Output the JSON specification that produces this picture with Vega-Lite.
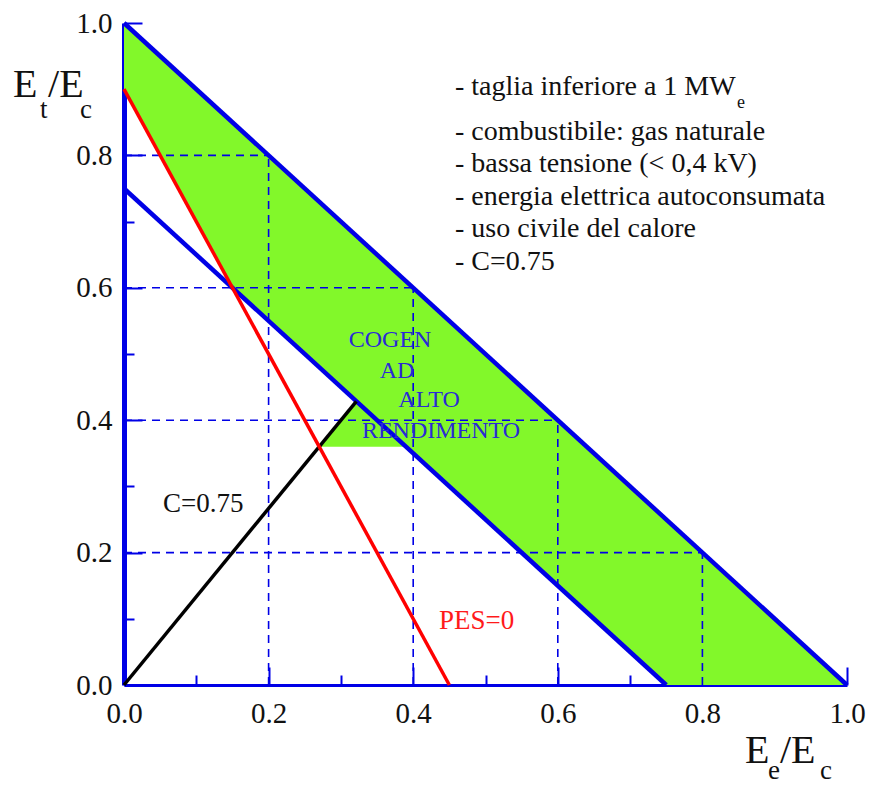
{
  "$schema": "https://vega.github.io/schema/vega-lite/v6.json",
  "width": 723,
  "height": 662,
  "autosize": {"type": "none"},
  "padding": {"left": 124, "top": 23, "right": 25, "bottom": 100},
  "background": "white",
  "config": {"view": {"stroke": null}, "font": "Liberation Serif"},
  "datasets": {
    "band": [
      {"x": 0, "y": 1, "y2": 0.9},
      {"x": 0.15, "y": 0.85, "y2": 0.6},
      {"x": 0.75, "y": 0.25, "y2": 0},
      {"x": 1, "y": 0, "y2": 0}
    ],
    "tri": [
      {"x": 0.27, "y": 0.36, "y2": 0.36},
      {"x": 0.3214, "y": 0.4286, "y2": 0.36},
      {"x": 0.39, "y": 0.36, "y2": 0.36}
    ],
    "grid": [
      {"x": 0, "x2": 0.8, "y": 0.2, "y2": 0.2},
      {"x": 0, "x2": 0.6, "y": 0.4, "y2": 0.4},
      {"x": 0, "x2": 0.4, "y": 0.6, "y2": 0.6},
      {"x": 0, "x2": 0.2, "y": 0.8, "y2": 0.8},
      {"x": 0.2, "x2": 0.2, "y": 0, "y2": 0.8},
      {"x": 0.4, "x2": 0.4, "y": 0, "y2": 0.6},
      {"x": 0.6, "x2": 0.6, "y": 0, "y2": 0.4},
      {"x": 0.8, "x2": 0.8, "y": 0, "y2": 0.2}
    ],
    "lines": [
      {"line": "top", "x": 0, "y": 1},
      {"line": "top", "x": 1, "y": 0},
      {"line": "low", "x": 0, "y": 0.75},
      {"line": "low", "x": 0.75, "y": 0},
      {"line": "C", "x": 0, "y": 0},
      {"line": "C", "x": 0.3214, "y": 0.4286},
      {"line": "PES", "x": 0, "y": 0.9},
      {"line": "PES", "x": 0.45, "y": 0}
    ],
    "notes": [
      {"t": "- taglia inferiore a 1 MW", "x": 0.4578, "y": 0.891},
      {"t": "- combustibile: gas naturale", "x": 0.4578, "y": 0.823},
      {"t": "- bassa tensione (< 0,4 kV)", "x": 0.4578, "y": 0.775},
      {"t": "- energia elettrica autoconsumata", "x": 0.4578, "y": 0.725},
      {"t": "- uso civile del calore", "x": 0.4578, "y": 0.677},
      {"t": "- C=0.75", "x": 0.4578, "y": 0.627}
    ],
    "notesub": [{"t": "e", "x": 0.848, "y": 0.8716}],
    "cogen": [
      {"t": "COGEN", "x": 0.368, "y": 0.5106},
      {"t": "AD", "x": 0.3776, "y": 0.4637},
      {"t": "ALTO", "x": 0.4219, "y": 0.42},
      {"t": "RENDIMENTO", "x": 0.4385, "y": 0.373}
    ],
    "pes": [{"t": "PES=0", "x": 0.4357, "y": 0.0846}],
    "clab": [{"t": "C=0.75", "x": 0.054, "y": 0.261}],
    "titlebig": [
      {"t": "E", "x": -0.1535, "y": 0.888},
      {"t": "/E", "x": -0.1051, "y": 0.888},
      {"t": "E", "x": 0.859, "y": -0.1178},
      {"t": "/E", "x": 0.9073, "y": -0.1178}
    ],
    "titlesub": [
      {"t": "t", "x": -0.1162, "y": 0.8565},
      {"t": "c", "x": -0.0609, "y": 0.8565},
      {"t": "e", "x": 0.8907, "y": -0.142},
      {"t": "c", "x": 0.9627, "y": -0.142}
    ]
  },
  "encoding": {
    "x": {
      "field": "x", "type": "quantitative",
      "scale": {"domain": [0, 1], "nice": false, "zero": false},
      "axis": {
        "title": null,
        "grid": false,
        "values": [0, 0.1, 0.2, 0.3, 0.4, 0.5, 0.6, 0.7, 0.8, 0.9, 1.0],
        "labelExpr": "round(datum.value*10) % 2 === 0 ? format(datum.value, '.1f') : ''",
        "domainColor": "#0000e6",
        "domainWidth": 3,
        "tickColor": "#0000e6",
        "tickWidth": 2,
        "tickSize": {"condition": {"test": "round(datum.value*10) % 2 === 0", "value": -18}, "value": -10},
        "labelFont": "Liberation Serif",
        "labelFontSize": 29,
        "labelColor": "#111111",
        "labelPadding": 32,
        "labelFlush": false,
        "labelOverlap": false
      }
    },
    "y": {
      "field": "y", "type": "quantitative",
      "scale": {"domain": [0, 1], "nice": false, "zero": false},
      "axis": {
        "title": null,
        "grid": false,
        "values": [0, 0.1, 0.2, 0.3, 0.4, 0.5, 0.6, 0.7, 0.8, 0.9, 1.0],
        "labelExpr": "round(datum.value*10) % 2 === 0 ? format(datum.value, '.1f') : ''",
        "domainColor": "#0000e6",
        "domainWidth": 5,
        "tickColor": "#0000e6",
        "tickWidth": 2,
        "tickSize": {"condition": {"test": "round(datum.value*10) % 2 === 0", "value": -18}, "value": -10},
        "labelFont": "Liberation Serif",
        "labelFontSize": 29,
        "labelColor": "#111111",
        "labelPadding": 30,
        "labelFlush": false,
        "labelOverlap": false
      }
    }
  },
  "layer": [
    {
      "data": {"name": "band"},
      "mark": {"type": "area", "color": "#82f82a", "opacity": 1},
      "encoding": {"y2": {"field": "y2"}}
    },
    {
      "data": {"name": "tri"},
      "mark": {"type": "area", "color": "#82f82a", "opacity": 1},
      "encoding": {"y2": {"field": "y2"}}
    },
    {
      "data": {"name": "grid"},
      "mark": {"type": "rule", "color": "#0000e6", "strokeWidth": 1.6, "strokeDash": [8, 6]},
      "encoding": {"x2": {"field": "x2"}, "y2": {"field": "y2"}}
    },
    {
      "data": {"name": "lines"},
      "transform": [{"filter": "datum.line === 'top' || datum.line === 'low'"}],
      "mark": {"type": "line", "color": "#0000e6", "strokeWidth": 4.5},
      "encoding": {"detail": {"field": "line"}}
    },
    {
      "data": {"name": "lines"},
      "transform": [{"filter": "datum.line === 'C'"}],
      "mark": {"type": "line", "color": "#000000", "strokeWidth": 3.5},
      "encoding": {}
    },
    {
      "data": {"name": "lines"},
      "transform": [{"filter": "datum.line === 'PES'"}],
      "mark": {"type": "line", "color": "#ff0000", "strokeWidth": 3.5},
      "encoding": {}
    },
    {
      "data": {"name": "notes"},
      "mark": {"type": "text", "align": "left", "baseline": "alphabetic", "font": "Liberation Serif", "fontSize": 28, "color": "#111111"},
      "encoding": {"text": {"field": "t"}}
    },
    {
      "data": {"name": "notesub"},
      "mark": {"type": "text", "align": "left", "baseline": "alphabetic", "font": "Liberation Serif", "fontSize": 18, "color": "#111111"},
      "encoding": {"text": {"field": "t"}}
    },
    {
      "data": {"name": "cogen"},
      "mark": {"type": "text", "align": "center", "baseline": "alphabetic", "font": "Liberation Serif", "fontSize": 24, "color": "#2a2ad6"},
      "encoding": {"text": {"field": "t"}}
    },
    {
      "data": {"name": "pes"},
      "mark": {"type": "text", "align": "left", "baseline": "alphabetic", "font": "Liberation Serif", "fontSize": 27, "color": "#ff1a1a"},
      "encoding": {"text": {"field": "t"}}
    },
    {
      "data": {"name": "clab"},
      "mark": {"type": "text", "align": "left", "baseline": "alphabetic", "font": "Liberation Serif", "fontSize": 27, "color": "#111111"},
      "encoding": {"text": {"field": "t"}}
    },
    {
      "data": {"name": "titlebig"},
      "mark": {"type": "text", "align": "left", "baseline": "alphabetic", "font": "Liberation Serif", "fontSize": 40, "color": "#111111"},
      "encoding": {"text": {"field": "t"}}
    },
    {
      "data": {"name": "titlesub"},
      "mark": {"type": "text", "align": "left", "baseline": "alphabetic", "font": "Liberation Serif", "fontSize": 27, "color": "#111111"},
      "encoding": {"text": {"field": "t"}}
    }
  ]
}
